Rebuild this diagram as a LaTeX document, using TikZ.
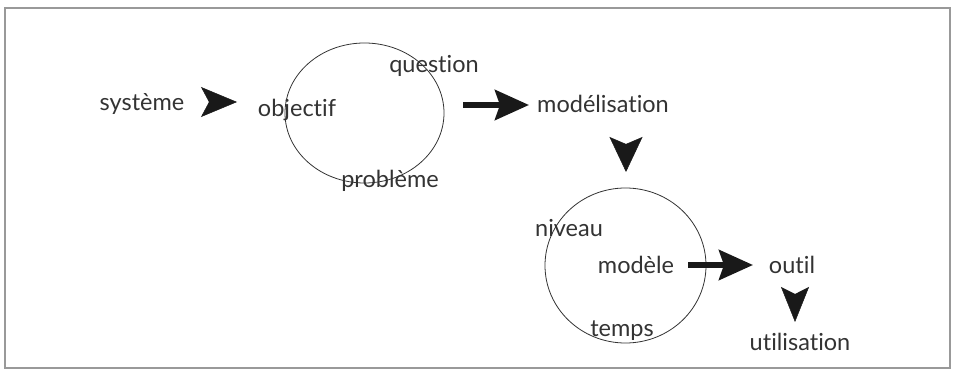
\documentclass[tikz,border=0pt]{standalone}
\usepackage{fontspec}
\setmainfont{Lato}[Ligatures={NoCommon,NoRare,NoContextual}]
\usetikzlibrary{arrows.meta,shapes.geometric}
\begin{document}
\begin{tikzpicture}[x=1pt,y=1pt,
  lbl/.style={anchor=base,inner sep=0pt,font=\fontsize{23.5}{28}\selectfont,text=black!80},
  ring/.style={draw=black!80,line width=0.8pt,ellipse,inner sep=0pt},
  dart/.style={line width=0.5pt,draw=black!90,fill=black!90},
  shaftarrow/.style={line width=6pt,draw=black!90,-{Stealth[length=34pt,width=30pt,inset=5pt]}},
  frame/.style={draw=black!40,line width=1.2pt}]
\useasboundingbox (0,0) rectangle (953,375);
\draw[frame] (5,7) rectangle (950,367);
% circles
\node[ring,minimum width=159pt,minimum height=140pt] (c1) at (364.5,262) {};
\node[ring,minimum width=161pt,minimum height=155pt] (c2) at (625.5,109.5) {};
% labels
\node[lbl] (systeme) at (142,264) {système};
\node[lbl] (objectif) at (297,258) {objectif};
\node[lbl] (question) at (434,302) {question};
\node[lbl] (probleme) at (390,187) {problème};
\node[lbl] (modelisation) at (603,262) {modélisation};
\node[lbl] (niveau) at (569,138) {niveau};
\node[lbl] (modele) at (636,101) {modèle};
\node[lbl] (outil) at (792,101) {outil};
\node[lbl] (temps) at (622,39) {temps};
\node[lbl] (utilisation) at (800,25) {utilisation};
% arrows (heads only: path length = length - inset)
\coordinate (a1s) at (209,273);
\coordinate (a1e) at (237,273);
\draw[dart,-{Stealth[length=36pt,width=30pt,inset=8pt]}] (a1s) -- (a1e);
\coordinate (a2s) at (463,270);
\coordinate (a2e) at (529,270);
\draw[shaftarrow] (a2s) -- (a2e);
\coordinate (a3s) at (626,231);
\coordinate (a3e) at (626,203);
\draw[dart,-{Stealth[length=35pt,width=33pt,inset=7pt]}] (a3s) -- (a3e);
\coordinate (a4s) at (688,110);
\coordinate (a4e) at (753,110);
\draw[shaftarrow] (a4s) -- (a4e);
\coordinate (a5s) at (795,81);
\coordinate (a5e) at (795,53);
\draw[dart,-{Stealth[length=35pt,width=28pt,inset=7pt]}] (a5s) -- (a5e);
\end{tikzpicture}
\end{document}
